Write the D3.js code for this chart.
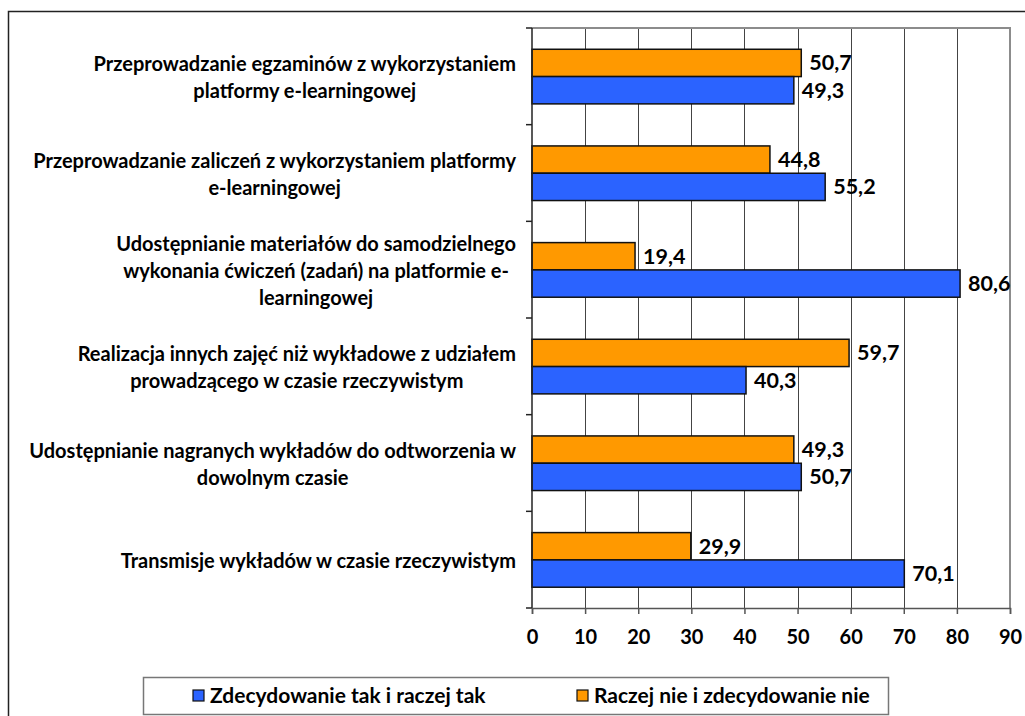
<!DOCTYPE html>
<html>
<head>
<meta charset="utf-8">
<script src="https://cdn.jsdelivr.net/npm/d3@7"></script>
<style>
  body { margin: 0; background: #fff; }
  text { font-family: Lato, "Open Sans", sans-serif; font-weight: bold; fill: #000; }
</style>
</head>
<body>
<div id="chart"></div>
<script>
// Category labels (top to bottom), already split into lines as in the picture
const categories = [
  ["Przeprowadzanie egzaminów z wykorzystaniem", "platformy e-learningowej"],
  ["Przeprowadzanie zaliczeń z wykorzystaniem platformy", "e-learningowej"],
  ["Udostępnianie materiałów do samodzielnego", "wykonania ćwiczeń (zadań) na platformie e-", "learningowej"],
  ["Realizacja innych zajęć niż wykładowe z udziałem", "prowadzącego w czasie rzeczywistym"],
  ["Udostępnianie nagranych wykładów do odtworzenia w", "dowolnym czasie"],
  ["Transmisje wykładów w czasie rzeczywistym"]
];

const seriesNames = ["Raczej nie i zdecydowanie nie", "Zdecydowanie tak i raczej tak"];
const legendOrder = ["Zdecydowanie tak i raczej tak", "Raczej nie i zdecydowanie nie"];

const takValues = [49.3, 55.2, 80.6, 40.3, 50.7, 70.1];
const nieValues = [50.7, 44.8, 19.4, 59.7, 49.3, 29.9];

const xTicks = [0, 10, 20, 30, 40, 50, 60, 70, 80, 90];

const colors = {
  "Zdecydowanie tak i raczej tak": "#2b63ff",
  "Raczej nie i zdecydowanie nie": "#ff9900"
};

const WIDTH = 1025, HEIGHT = 716;
const PLOT = { LEFT: 532, RIGHT: 1010, TOP: 28, BOTTOM: 608 };

const svg = d3.select("#chart").append("svg")
  .attr("width", WIDTH)
  .attr("height", HEIGHT);

// outer chart frame (runs off the right and bottom edge)
svg.append("rect")
  .attr("x", 8.5).attr("y", 11.5)
  .attr("width", WIDTH + 10).attr("height", HEIGHT + 10)
  .attr("fill", "none")
  .attr("stroke", "#222")
  .attr("stroke-width", 1.5);

// scales
const x = d3.scaleLinear().domain([0, 90]).range([PLOT.LEFT, PLOT.RIGHT]);
const y = d3.scaleBand().domain(d3.range(categories.length)).range([PLOT.TOP, PLOT.BOTTOM]);
const ySub = d3.scaleBand().domain(seriesNames)
  .range([y.bandwidth() * 0.22, y.bandwidth() * 0.785]).padding(0);

// gridlines
svg.append("g")
  .selectAll("line")
  .data(xTicks.filter(d => d > 0 && d < 90))
  .join("line")
    .attr("x1", d => Math.round(x(d)) + 0.5)
    .attr("x2", d => Math.round(x(d)) + 0.5)
    .attr("y1", PLOT.TOP)
    .attr("y2", PLOT.BOTTOM)
    .attr("stroke", "#444")
    .attr("stroke-width", 1);

// plot area border (top and right in gray)
svg.append("path")
  .attr("d", `M${PLOT.LEFT},${PLOT.TOP}H${PLOT.RIGHT}V${PLOT.BOTTOM}`)
  .attr("fill", "none")
  .attr("stroke", "#8c8c8c")
  .attr("stroke-width", 2);

// rows of data
const rows = categories.map((c, i) => ({
  i: i,
  values: [
    { name: seriesNames[0], value: nieValues[i] },
    { name: seriesNames[1], value: takValues[i] }
  ]
}));

const groups = svg.append("g")
  .selectAll("g")
  .data(rows)
  .join("g")
    .attr("transform", d => `translate(0,${y(d.i)})`);

groups.selectAll("rect")
  .data(d => d.values)
  .join("rect")
    .attr("x", x(0))
    .attr("y", d => ySub(d.name))
    .attr("width", d => x(d.value) - x(0))
    .attr("height", ySub.bandwidth())
    .attr("fill", d => colors[d.name])
    .attr("stroke", "#111")
    .attr("stroke-width", 1.5);

// value labels
groups.selectAll("text.val")
  .data(d => d.values)
  .join("text")
    .attr("class", "val")
    .attr("x", d => x(d.value) + 8)
    .attr("y", d => ySub(d.name) + ySub.bandwidth() / 2)
    .attr("dy", "0.35em")
    .style("font-size", "21.5px")
    .text(d => d3.format(".1f")(d.value).replace(".", ","));

// y axis (category boundaries as ticks)
svg.append("line")
  .attr("x1", PLOT.LEFT).attr("x2", PLOT.LEFT)
  .attr("y1", PLOT.TOP).attr("y2", PLOT.BOTTOM)
  .attr("stroke", "#222").attr("stroke-width", 1.5);

svg.append("g")
  .selectAll("line")
  .data(d3.range(categories.length + 1))
  .join("line")
    .attr("x1", PLOT.LEFT - 6).attr("x2", PLOT.LEFT)
    .attr("y1", d => PLOT.TOP + d * y.step())
    .attr("y2", d => PLOT.TOP + d * y.step())
    .attr("stroke", "#222").attr("stroke-width", 1.5);

// x axis
const xAxisCall = d3.axisBottom(x).tickValues(xTicks).tickSize(6).tickPadding(16)
  .tickFormat(d3.format("d"));
const xAxisGroup = svg.append("g")
  .attr("transform", `translate(0,${PLOT.BOTTOM})`)
  .call(xAxisCall);
xAxisGroup.select(".domain").attr("stroke", "#555").attr("stroke-width", 1.5);
xAxisGroup.selectAll(".tick line").attr("stroke", "#555").attr("stroke-width", 1.5);
xAxisGroup.selectAll(".tick text")
  .style("font-family", "Lato, sans-serif")
  .style("font-weight", "bold")
  .style("font-size", "20px");

// category labels: each block is right aligned to the axis, lines centered within it
const LABEL_RIGHT = 516;
const LINE_H = 27;
const labels = svg.append("g")
  .selectAll("g")
  .data(categories)
  .join("g");

labels.each(function (lines, i) {
  const g = d3.select(this);
  const cy = y(i) + y.bandwidth() / 2;
  const texts = g.selectAll("text")
    .data(lines)
    .join("text")
      .style("font-size", "20px")
      .attr("text-anchor", "middle")
      .attr("dy", "0.35em")
      .attr("y", (d, k) => cy + (k - (lines.length - 1) / 2) * LINE_H + 1)
      .text(d => d);
  let maxW = 0;
  texts.each(function () { maxW = Math.max(maxW, this.getComputedTextLength()); });
  texts.attr("x", LABEL_RIGHT - maxW / 2);
});

// legend
const legend = svg.append("g");
legend.append("rect")
  .attr("x", 143.5).attr("y", 677.5)
  .attr("width", 745).attr("height", 37)
  .attr("fill", "#fff")
  .attr("stroke", "#777")
  .attr("stroke-width", 1.5);

const legendX = [193, 577];
const items = legend.selectAll("g")
  .data(legendOrder)
  .join("g")
    .attr("transform", (d, i) => `translate(${legendX[i]},690)`);

items.append("rect")
  .attr("width", 11).attr("height", 11)
  .attr("fill", d => colors[d])
  .attr("stroke", "#111")
  .attr("stroke-width", 1.2);

items.append("text")
  .attr("x", 17)
  .attr("y", 6)
  .attr("dy", "0.35em")
  .style("font-size", "21px")
  .text(d => d);
</script>
</body>
</html>
